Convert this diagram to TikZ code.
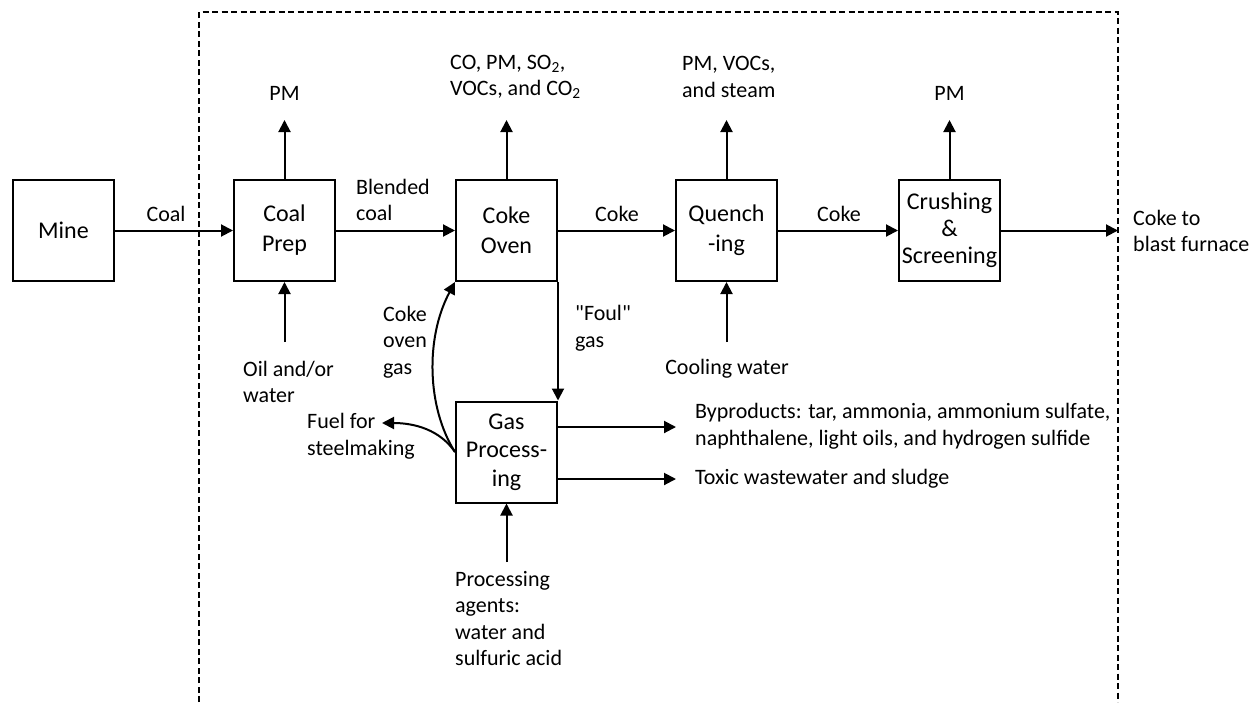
\documentclass[tikz,border=0pt]{standalone}
\usepackage{fontspec}
\setmainfont{Carlito}
\usetikzlibrary{arrows.meta}
\begin{document}
\begin{tikzpicture}[x=1pt,y=-1pt,
  box/.style={draw,line width=2pt,minimum width=101pt,minimum height=101pt,inner sep=0pt,align=center,font=\fontsize{24}{30}\selectfont},
  lbl/.style={inner sep=0pt,align=left,font=\fontsize{22}{26.5}\selectfont},
  flow/.style={line width=2pt,-{Triangle[length=12pt,width=12pt]}},
  border/.style={line width=1.5pt,dash pattern=on 6pt off 3.5pt}]
\useasboundingbox (0,0) rectangle (1251,702);
% boundary
\coordinate (b1) at (199,702);
\coordinate (b2) at (199,12);
\coordinate (b3) at (1118,12);
\coordinate (b4) at (1118,702);
\draw[border] (b1) -- (b2) -- (b3) -- (b4);
% boxes
\node[box] (mine) at (63.5,230.5) {Mine};
\node[box] (prep) at (284.5,230.5) {Coal\\Prep};
\node[box] (oven) at (506.5,230.5) {Coke\\Oven};
\node[box] (quench) at (726.5,230.5) {Quench\\-ing};
\node[box,font=\fontsize{24}{27}\selectfont] (crush) at (949.5,230.5) {Crushing\\\&\\Screening};
\node[box,font=\fontsize{24}{28.5}\selectfont] (gas) at (506.5,452) {Gas\\Process-\\ing};
% coordinates for free ends
\coordinate (pmA) at (284.5,120);
\coordinate (ovA) at (506.5,120);
\coordinate (quA) at (726.5,120);
\coordinate (crA) at (949.5,120);
\coordinate (oilA) at (284.5,342);
\coordinate (coolA) at (726.5,342);
\coordinate (procA) at (506.5,562);
\coordinate (furn) at (1118,230.5);
\coordinate (byp) at (676,427);
\coordinate (tox) at (676,479);
\coordinate (fuel) at (382,423);
% main flow
\draw[flow] (mine) -- (prep);
\draw[flow] (prep) -- (oven);
\draw[flow] (oven) -- (quench);
\draw[flow] (quench) -- (crush);
\draw[flow] (crush) -- (furn);
% emissions
\draw[flow] (prep.north) -- (pmA);
\draw[flow] (oven.north) -- (ovA);
\draw[flow] (quench.north) -- (quA);
\draw[flow] (crush.north) -- (crA);
% inputs
\draw[flow] (oilA) -- (prep.south);
\draw[flow] (coolA) -- (quench.south);
\draw[flow] (procA) -- (gas.south);
% gas
\draw[flow] (oven.south east) -- (gas.north east);
\draw[flow] (gas.east |- byp) -- (byp);
\draw[flow] (gas.east |- tox) -- (tox);
\draw[flow] (gas.west) .. controls (427,408) and (425,338) .. (oven.south west);
\draw[flow] (gas.west) .. controls (440,430) and (415,423) .. (fuel);
% labels
\node[lbl] (lcoal) at (166,214) {Coal};
\node[lbl,anchor=west] (lblend) at (356,200) {Blended\\coal};
\node[lbl,anchor=west] (lco) at (450,77) {CO, PM, SO\textsubscript{2},\\VOCs, and CO\textsubscript{2}};
\node[lbl,anchor=west] (lpmv) at (682,77) {PM, VOCs,\\and steam};
\node[lbl] (lpm1) at (284.5,93) {PM};
\node[lbl] (lpm2) at (949.5,93) {PM};
\node[lbl] (lcoke1) at (617,214) {Coke};
\node[lbl] (lcoke2) at (839,214) {Coke};
\node[lbl,anchor=west] (lfurn) at (1133,231) {Coke to\\blast furnace};
\node[lbl,anchor=west] (loil) at (243,382) {Oil and/or\\water};
\node[lbl,anchor=west] (lcog) at (383,342) {Coke\\oven\\gas};
\node[lbl,anchor=west] (lfoul) at (575,328) {\textquotedbl Foul\textquotedbl\\gas};
\node[lbl] (lcool) at (727,369) {Cooling water};
\node[lbl,anchor=west] (lfuel) at (307,436) {Fuel for\\steelmaking};
\node[lbl,anchor=west] (lbyp) at (695,426) {Byproducts: tar, ammonia, ammonium sulfate,\\naphthalene, light oils, and hydrogen sulfide};
\node[lbl,anchor=west] (ltox) at (695,479) {Toxic wastewater and sludge};
\node[lbl,anchor=west] (lproc) at (455,618.5) {Processing\\agents:\\water and\\sulfuric acid};
\end{tikzpicture}
\end{document}
